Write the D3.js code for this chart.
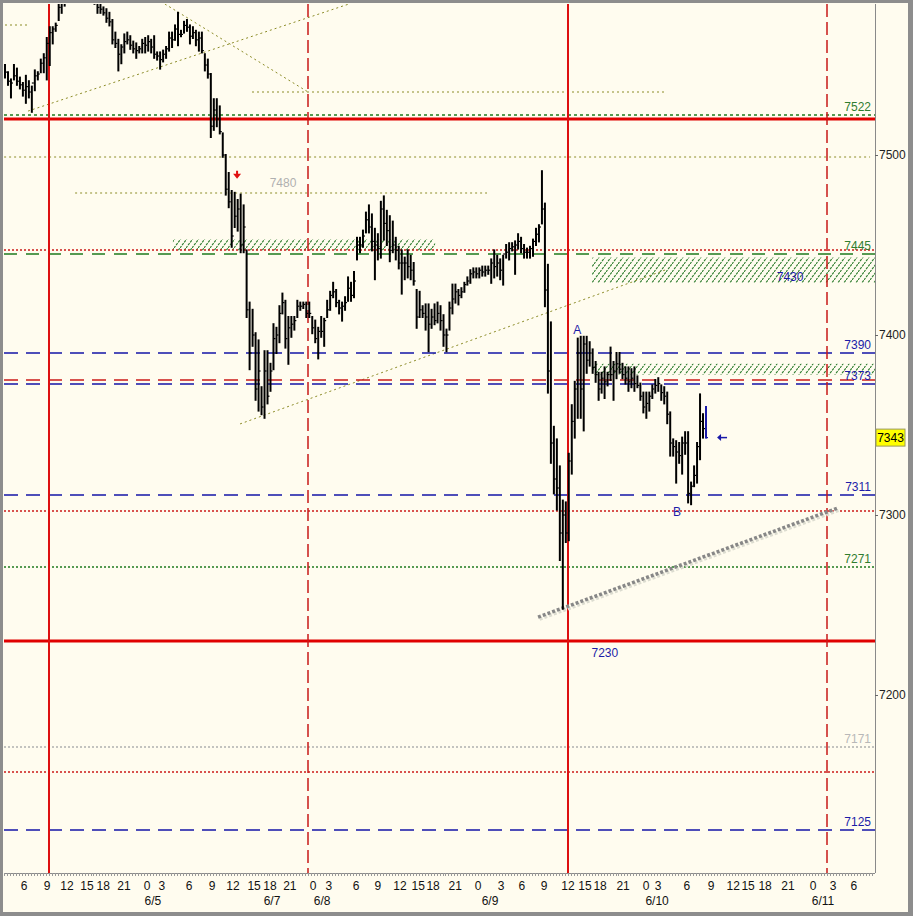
<!DOCTYPE html>
<html>
<head>
<meta charset="utf-8">
<script src="https://cdn.jsdelivr.net/npm/d3@7"></script>
<style>
  body { margin: 0; background: #fff; }
  svg { display: block; font-family: "Liberation Sans", Arial, sans-serif; }
</style>
</head>
<body>
<div id="chart"></div>
<script>
"use strict";

///////////////////////////
// bar data (one bar per slot)
///////////////////////////
const highs = [7550,7546,7542,7550,7548,7543,7540,7544,7541,7538,7547,7546,7553,7556,7565,7571,7571,7573,7586,7589,7593,7597,7600,7603,7602,7605,7603,7600,7598,7596,7593,7589,7585,7582,7581,7579,7575,7568,7564,7561,7567,7568,7566,7563,7562,7560,7564,7565,7566,7564,7566,7557,7557,7558,7560,7568,7568,7572,7579,7569,7574,7575,7572,7571,7569,7568,7568,7556,7553,7545,7531,7531,7527,7512,7500,7490,7480,7479,7475,7478,7472,7447,7418,7414,7401,7397,7371,7391,7391,7384,7406,7404,7416,7423,7419,7410,7410,7410,7419,7418,7418,7418,7418,7410,7408,7404,7410,7409,7419,7424,7429,7425,7419,7418,7421,7432,7429,7435,7454,7454,7458,7468,7472,7467,7459,7456,7474,7477,7469,7466,7463,7454,7449,7447,7443,7447,7444,7440,7425,7424,7416,7417,7417,7414,7417,7418,7416,7411,7403,7418,7428,7428,7425,7426,7429,7432,7436,7437,7437,7437,7438,7438,7438,7442,7447,7444,7442,7444,7450,7451,7451,7452,7456,7454,7450,7448,7449,7453,7459,7461,7491,7473,7439,7407,7349,7342,7327,7308,7307,7334,7361,7374,7398,7399,7399,7399,7396,7392,7385,7379,7379,7382,7379,7393,7385,7390,7390,7384,7382,7382,7381,7382,7377,7373,7368,7368,7368,7372,7375,7376,7372,7371,7368,7357,7342,7341,7340,7343,7346,7346,7318,7327,7340,7367,7356,7360];
const lows = [7543,7539,7532,7542,7539,7537,7533,7529,7532,7524,7536,7542,7546,7546,7542,7550,7562,7569,7575,7579,7583,7588,7591,7592,7593,7594,7592,7589,7587,7586,7584,7579,7579,7578,7574,7572,7562,7560,7547,7551,7557,7562,7559,7557,7554,7557,7557,7557,7558,7557,7554,7553,7548,7552,7554,7558,7560,7564,7561,7566,7568,7569,7562,7565,7561,7558,7557,7547,7543,7510,7514,7516,7512,7499,7478,7471,7449,7460,7458,7446,7446,7410,7381,7394,7364,7358,7356,7354,7362,7369,7381,7390,7396,7412,7393,7384,7399,7403,7410,7414,7415,7410,7410,7401,7396,7387,7399,7394,7410,7414,7421,7416,7412,7408,7414,7419,7419,7421,7442,7446,7449,7457,7457,7447,7431,7442,7443,7453,7450,7441,7446,7442,7437,7423,7431,7432,7431,7428,7404,7410,7410,7403,7391,7404,7406,7407,7403,7394,7391,7403,7412,7418,7417,7421,7424,7428,7429,7432,7432,7432,7433,7433,7434,7429,7432,7433,7431,7428,7443,7442,7447,7434,7448,7446,7443,7443,7443,7444,7450,7452,7462,7416,7368,7329,7312,7303,7275,7248,7285,7286,7323,7343,7354,7354,7347,7379,7383,7379,7374,7364,7368,7365,7372,7375,7364,7376,7379,7376,7373,7369,7371,7369,7371,7364,7357,7354,7358,7365,7368,7369,7364,7362,7351,7333,7333,7318,7329,7323,7334,7307,7306,7316,7318,7331,7343,7343];
const closes = [7546,7541,7540,7544,7541,7539,7536,7538,7535,7540,7544,7545,7551,7554,7562,7568,7570,7572,7582,7585,7590,7594,7596,7598,7597,7599,7595,7593,7590,7590,7587,7582,7581,7579,7576,7574,7564,7562,7556,7560,7563,7564,7561,7559,7558,7559,7562,7561,7563,7560,7556,7555,7553,7556,7559,7565,7564,7570,7567,7567,7572,7571,7566,7568,7564,7565,7558,7550,7545,7516,7525,7520,7513,7500,7481,7474,7455,7466,7470,7450,7460,7414,7390,7400,7370,7380,7360,7380,7366,7380,7398,7400,7412,7418,7398,7404,7406,7408,7416,7416,7417,7412,7412,7404,7398,7402,7402,7408,7414,7422,7424,7418,7415,7416,7418,7426,7422,7430,7450,7450,7455,7464,7460,7452,7450,7448,7470,7462,7458,7447,7450,7447,7440,7440,7440,7438,7436,7430,7410,7414,7412,7410,7406,7410,7408,7412,7408,7400,7400,7415,7420,7424,7422,7424,7428,7430,7434,7435,7434,7436,7435,7436,7436,7440,7438,7440,7436,7445,7446,7448,7449,7450,7452,7448,7446,7446,7448,7452,7456,7460,7470,7425,7380,7340,7320,7315,7290,7300,7290,7330,7352,7370,7390,7370,7395,7386,7390,7382,7378,7370,7376,7374,7378,7378,7380,7384,7381,7378,7376,7374,7376,7373,7372,7366,7360,7362,7366,7370,7372,7373,7368,7366,7356,7340,7338,7335,7333,7340,7340,7312,7316,7322,7338,7352,7348,7343];

///////////////////////////
// axis data
///////////////////////////
const hourSlots = [6.4,14.1,20.8,27.5,32.9,39.9,47.6,52.6,61.7,69.4,76.4,83.5,88.8,95.5,103.3,108.6,117.7,125.0,132.4,138.5,143.5,150.9,158.6,166.3,173.3,180.7,188.7,194.4,199.5,207.2,214.9,218.9,228.6,236.7,244.1,249.1,254.8,262.5,270.9,277.6,284.6];
const hourLabels = ["6","9","12","15","18","21","0","3","6","9","12","15","18","21","0","3","6","9","12","15","18","21","0","3","6","9","12","15","18","21","0","3","6","9","12","15","18","21","0","3","6"];
const dateSlots = [49.6, 89.5, 106.3, 162.6, 218.6, 274.2];
const dateLabels = ["6/5", "6/7", "6/8", "6/9", "6/10", "6/11"];
const priceTicks = [7200, 7300, 7400, 7500];
const lastPrice = 7343;

///////////////////////////
// drawn studies
///////////////////////////
const cycleSolid = [14.75, 188.7];
const cycleDashed = [101.6, 275.6];
const redThickLevels = [7520, 7230];
const redDottedLevels = [7447, 7302, 7157];
const redDashedLevels = [7375];
const blueDashedLevels = [7390, 7373, 7311, 7125];
const greenDashedLevels = [7445];
const greenShortLevels = [7522];
const greenDottedLevels = [7271];
const grayDottedLevels = [7171];
const oliveLevelValues = [7499, 7535, 7479, 7572];
const oliveLevelFrom = [-0.3, 82.8, 23.5, 0];
const oliveLevelTo = [290, 221.3, 161.6, 7.7];
const oliveTrends = [
  [[7.7, 7524.4], [115.3, 7583.9]],
  [[53.6, 7583.9], [101.6, 7535]],
  [[78.8, 7350.6], [221.3, 7436.1]],
];
const grayTrend = [[178.7, 7243.3], [279.2, 7303.9]];
const zoneTop = [7453, 7443, 7384];
const zoneBottom = [7447, 7429, 7378];
const zoneFrom = [56.3, 196.8, 196.8];
const zoneTo = [144.2, 292, 292];
const levelLabelValues = [7522, 7445, 7390, 7373, 7311, 7271, 7171, 7125];
const levelLabelKinds = ["green", "green", "blue", "blue", "blue", "green", "gray", "blue"];
const noteSlots = [263.2, 201.1, 93.2, 191.8, 225.3];
const notePrices = [7432.2, 7223.3, 7484.4, 7402.8, 7301.7];
const noteTexts = ["7430", "7230", "7480", "A", "B"];
const noteKinds = ["blue", "blue", "lightgray", "blue", "blue"];
const sellArrow = [77.8, 7489];
const lastArrow = [238.7, 7343];

///////////////////////////
// canvas
///////////////////////////
const W = 913, H = 916;
const plot = { left: 4, right: 875, top: 4, bottom: 873 };
const colors = {
  green: "#2f7d2f", blue: "#1c1ca8", gray: "#b8b8b8", lightgray: "#b0b0b0",
  red: "#dd1010", olive: "#8c8c28",
};

const svg = d3.select("#chart").append("svg").attr("width", W).attr("height", H);

svg.append("rect").attr("width", W).attr("height", H).attr("fill", "#8d8d8d");
svg.append("rect").attr("x", 3).attr("y", 3).attr("width", 905).attr("height", 909).attr("fill", "#fffcef");

const x = d3.scaleLinear().domain([0, 292]).range([5, 5 + 292 * 2.983]);
const y = d3.scaleLinear().domain([7101.1, 7583.9]).range([plot.bottom, plot.top]);
const py = (v) => Math.round(y(v)); // whole pixel rows

const defs = svg.append("defs");
defs.append("clipPath").attr("id", "clip")
  .append("rect")
  .attr("x", plot.left).attr("y", plot.top)
  .attr("width", plot.right - plot.left).attr("height", plot.bottom - plot.top);

const hatch = defs.append("pattern")
  .attr("id", "hatch")
  .attr("patternUnits", "userSpaceOnUse")
  .attr("width", 6).attr("height", 8);
hatch.append("path")
  .attr("d", "M0,8 L6,0")
  .attr("stroke", "#2e7d2e").attr("stroke-width", 1.1)
  .attr("stroke-dasharray", "2.5,1");

const g = svg.append("g").attr("clip-path", "url(#clip)");

// hatched zones
g.selectAll(".zone").data(zoneTop).enter().append("rect")
  .attr("x", (d, i) => x(zoneFrom[i]))
  .attr("width", (d, i) => x(zoneTo[i]) - x(zoneFrom[i]))
  .attr("y", (d) => y(d))
  .attr("height", (d, i) => y(zoneBottom[i]) - y(d))
  .attr("fill", "url(#hatch)");

const hline = (values, color, width, dash) => {
  g.selectAll(null).data(values).enter().append("line")
    .attr("x1", plot.left).attr("x2", plot.right)
    .attr("y1", (d) => py(d)).attr("y2", (d) => py(d))
    .attr("stroke", color).attr("stroke-width", width)
    .attr("stroke-dasharray", dash);
};

// olive partial levels
g.selectAll(".olive").data(oliveLevelValues).enter().append("line")
  .attr("x1", (d, i) => x(oliveLevelFrom[i]))
  .attr("x2", (d, i) => x(oliveLevelTo[i]))
  .attr("y1", (d) => py(d)).attr("y2", (d) => py(d))
  .attr("stroke", colors.olive).attr("stroke-width", 1.2)
  .attr("stroke-dasharray", "2,3");

const line = d3.line().x((d) => x(d[0])).y((d) => y(d[1]));
g.selectAll(".trend").data(oliveTrends).enter().append("path")
  .attr("d", line)
  .attr("fill", "none")
  .attr("stroke", colors.olive).attr("stroke-width", 1)
  .attr("stroke-dasharray", "2,3");

hline(greenShortLevels, "#1f7a1f", 1.5, "3,3");
hline(greenDashedLevels, "#1f7a1f", 1.5, "13,9");
hline(greenDottedLevels, "#1f7a1f", 1.4, "2,2");
hline(grayDottedLevels, "#b0b0b0", 1.4, "2,2");
hline(redDottedLevels, "#cc1a1a", 1.4, "2,2");
hline(redDashedLevels, "#cc1a1a", 1.5, "14,8");
hline(blueDashedLevels, "#1414a8", 1.5, "14,8");
hline(redThickLevels, "#e00000", 3, null);

// cycle verticals
g.selectAll(".vsolid").data(cycleSolid).enter().append("line")
  .attr("x1", (d) => Math.round(x(d))).attr("x2", (d) => Math.round(x(d)))
  .attr("y1", plot.top).attr("y2", plot.bottom)
  .attr("stroke", "#dd1010").attr("stroke-width", 2);
g.selectAll(".vdash").data(cycleDashed).enter().append("line")
  .attr("x1", (d) => Math.round(x(d))).attr("x2", (d) => Math.round(x(d)))
  .attr("y1", plot.top).attr("y2", plot.bottom)
  .attr("stroke", "#c81818").attr("stroke-width", 1.5)
  .attr("stroke-dasharray", "13,5");

// gray dotted trend with shadow
g.append("path").datum(grayTrend).attr("d", line)
  .attr("transform", "translate(1.5,2)")
  .attr("stroke", "#dcdcd0").attr("stroke-width", 3.5)
  .attr("stroke-dasharray", "3,2").attr("fill", "none");
g.append("path").datum(grayTrend).attr("d", line)
  .attr("stroke", "#878787").attr("stroke-width", 3.5)
  .attr("stroke-dasharray", "3,2").attr("fill", "none");

// HLC bars
const bars = g.selectAll(".bar").data(highs).enter().append("g")
  .attr("stroke", (d, i) => (i === highs.length - 1 ? "#1a1aa8" : "#000"))
  .attr("stroke-width", 2);
bars.append("line")
  .attr("x1", (d, i) => x(i)).attr("x2", (d, i) => x(i))
  .attr("y1", (d) => y(d) - 1).attr("y2", (d, i) => y(lows[i]) + 1);
bars.append("line")
  .attr("x1", (d, i) => x(i)).attr("x2", (d, i) => x(i) + 2)
  .attr("y1", (d, i) => y(closes[i])).attr("y2", (d, i) => y(closes[i]))
  .attr("stroke-width", 1.2);

// level labels
g.selectAll(".lvl").data(levelLabelValues).enter().append("text")
  .attr("x", 871)
  .attr("y", (d) => y(d) - 4)
  .attr("text-anchor", "end")
  .attr("font-size", 12)
  .attr("fill", (d, i) => colors[levelLabelKinds[i]])
  .text((d) => d);

g.selectAll(".note").data(noteTexts).enter().append("text")
  .attr("x", (d, i) => x(noteSlots[i]))
  .attr("y", (d, i) => y(notePrices[i]) + 4)
  .attr("text-anchor", "middle")
  .attr("font-size", 12)
  .attr("fill", (d, i) => colors[noteKinds[i]])
  .text((d) => d);

// red sell arrow
const sx = x(sellArrow[0]), sy = y(sellArrow[1]);
g.append("path")
  .attr("d", `M${sx - 4},${sy - 1} L${sx + 4},${sy - 1} L${sx},${sy + 4} Z M${sx - 1},${sy - 4} h2 v3 h-2 Z`)
  .attr("fill", "#e01010");

// last price arrow
const ax = x(lastArrow[0]), ay = y(lastArrow[1]);
g.append("path")
  .attr("d", `M${ax},${ay} L${ax + 4},${ay - 3.5} L${ax + 4},${ay + 3.5} Z`)
  .attr("fill", "#1a1aa8");
g.append("line")
  .attr("x1", ax + 3).attr("x2", ax + 10).attr("y1", ay).attr("y2", ay)
  .attr("stroke", "#1a1aa8").attr("stroke-width", 1.5);

///////////////////////////
// axes
///////////////////////////
svg.append("line")
  .attr("x1", plot.right + 0.5).attr("x2", plot.right + 0.5)
  .attr("y1", plot.top).attr("y2", plot.bottom)
  .attr("stroke", "#8a8a8a");
svg.append("line")
  .attr("x1", plot.left).attr("x2", plot.right)
  .attr("y1", plot.bottom + 0.5).attr("y2", plot.bottom + 0.5)
  .attr("stroke", "#8a8a8a");

const yAxis = svg.append("g")
  .attr("transform", `translate(${plot.right},0)`)
  .call(d3.axisRight(y).tickValues(priceTicks).tickSize(3).tickPadding(1).tickFormat(d3.format("d")));
yAxis.select(".domain").remove();
yAxis.selectAll("line").attr("stroke", "#666");
yAxis.selectAll("text").attr("font-size", 12).attr("fill", "#222")
  .attr("font-family", "Liberation Sans, Arial, sans-serif");

// last price box
svg.append("rect")
  .attr("x", 876).attr("y", y(lastPrice) - 8.5)
  .attr("width", 29).attr("height", 17)
  .attr("fill", "#ffff00").attr("stroke", "#9a9a60");
svg.append("text")
  .attr("x", 890.5).attr("y", y(lastPrice) + 4.5)
  .attr("text-anchor", "middle").attr("font-size", 12).attr("fill", "#000")
  .text(lastPrice);

// bottom minor ticks
svg.selectAll(".mtick").data(d3.range(0, 292)).enter().append("line")
  .attr("x1", (d) => Math.round(x(d)) - 0.5).attr("x2", (d) => Math.round(x(d)) - 0.5)
  .attr("y1", plot.bottom).attr("y2", plot.bottom + 3)
  .attr("stroke", "#999");

svg.selectAll(".hour").data(hourLabels).enter().append("text")
  .attr("x", (d, i) => x(hourSlots[i]))
  .attr("y", 890)
  .attr("text-anchor", "middle")
  .attr("font-size", 12).attr("fill", "#111")
  .text((d) => d);

svg.selectAll(".date").data(dateLabels).enter().append("text")
  .attr("x", (d, i) => x(dateSlots[i]))
  .attr("y", 905)
  .attr("text-anchor", "middle")
  .attr("font-size", 12).attr("fill", "#111")
  .text((d) => d);
</script>
</body>
</html>
